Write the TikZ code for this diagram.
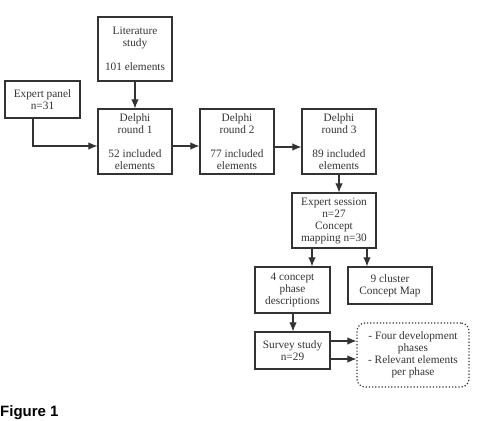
\documentclass[tikz,border=0pt]{standalone}
\usepackage{fontspec}
\setmainfont{Liberation Serif}
\newfontfamily\figfont{Liberation Sans}
\usetikzlibrary{arrows.meta}
\definecolor{ink}{HTML}{333333}
\begin{document}
\begin{tikzpicture}[x=1pt,y=-1pt,
  box/.style={draw=ink,line width=1.2pt,rectangle,inner sep=0pt,align=center,
    text=ink,font=\fontsize{11.3}{12}\selectfont},
  outbox/.style={box,dotted,rounded corners=8pt},
  arr/.style={draw=ink,line width=1.1pt,-{Latex[length=9pt,width=7.5pt]}}]
\useasboundingbox (0,0) rectangle (478,420);
\node[box,minimum width=74pt,minimum height=64pt] (lit) at (135,49) {Literature\\study\\[12pt]101 elements};
\node[box,minimum width=75pt,minimum height=37pt] (panel) at (42.5,99.5) {Expert panel\\n=31};
\node[box,minimum width=74pt,minimum height=65pt] (d1) at (135,141.5) {Delphi\\round 1\\[12pt]52 included\\elements};
\node[box,minimum width=74pt,minimum height=65pt] (d2) at (237,141.5) {Delphi\\round 2\\[12pt]77 included\\elements};
\node[box,minimum width=74pt,minimum height=65pt] (d3) at (339,141.5) {Delphi\\round 3\\[12pt]89 included\\elements};
\node[box,minimum width=84pt,minimum height=55pt] (es) at (334,220.5) {Expert session\\n=27\\Concept\\mapping n=30};
\node[box,minimum width=75pt,minimum height=46pt] (c4) at (292.5,290) {4 concept\\phase\\descriptions};
\node[box,minimum width=84pt,minimum height=37pt] (c9) at (390,285.5) {9 cluster\\Concept Map};
\node[box,minimum width=75pt,minimum height=37pt] (sv) at (292.5,350.5) {Survey study\\n=29};
\node[outbox,minimum width=112pt,minimum height=64pt] (out) at (413,355) {- Four development\\phases\\- Relevant elements\\per phase};
\node[anchor=base west,inner sep=0pt,font=\figfont\bfseries\fontsize{15}{15}\selectfont,text=black] (fig) at (0,416) {Figure 1};
\draw[arr] (lit.south) -- (d1.north);
\draw[arr] (panel.south -| 33,0) |- (d1.west |- 0,146);
\draw[arr] (d1.east |- 0,146) -- (d2.west |- 0,146);
\draw[arr] (d2.east |- 0,147) -- (d3.west |- 0,147);
\draw[arr] (d3.south -| 339,0) -- (es.north -| 339,0);
\draw[arr] (es.south -| 312,0) -- (c4.north -| 312,0);
\draw[arr] (es.south -| 367,0) -- (c9.north -| 367,0);
\draw[arr] (c4.south -| 293,0) -- (sv.north -| 293,0);
\draw[arr] (sv.east |- 0,341) -- (out.west |- 0,341);
\draw[arr] (sv.east |- 0,359) -- (out.west |- 0,359);
\end{tikzpicture}
\end{document}
